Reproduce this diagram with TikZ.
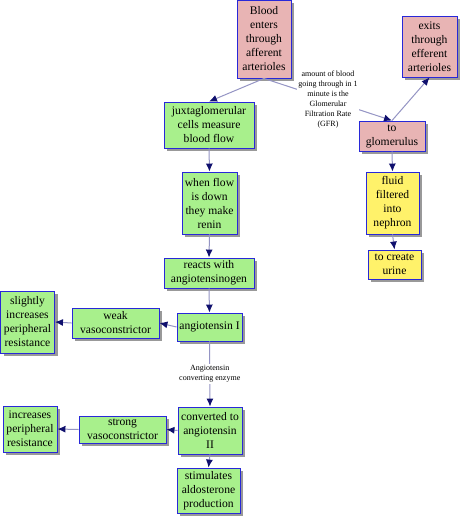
\documentclass[tikz,border=0pt]{standalone}
\usepackage{fontspec}
\setmainfont{Liberation Serif}
\usetikzlibrary{arrows.meta,shadows}
\definecolor{pinkc}{HTML}{E8B4B4}
\definecolor{greenc}{HTML}{A8F08C}
\definecolor{yellowc}{HTML}{FFF26A}
\definecolor{borderc}{HTML}{2828D8}
\definecolor{linec}{HTML}{9494C4}
\definecolor{tipc}{HTML}{10106E}
\tikzset{
  box/.style={draw=borderc, line width=0.9pt, align=center, inner sep=1pt,
    font=\fontsize{11.6}{14}\selectfont,
    drop shadow={shadow xshift=3pt, shadow yshift=-3pt, fill=gray!80, opacity=1}},
  pinkbox/.style={box, fill=pinkc},
  greenbox/.style={box, fill=greenc},
  yellowbox/.style={box, fill=yellowc},
  conn/.style={draw=linec, line width=1pt, -{Latex[length=8pt,width=7pt,color=tipc]}},
  lbl/.style={fill=white, inner sep=1pt, align=center, font=\fontsize{8}{10}\selectfont}
}
\begin{document}
\begin{tikzpicture}[x=1pt,y=-1pt]
\useasboundingbox (0,0) rectangle (460,517);
\fill[white] (0,0) rectangle (460,517);
% nodes
\node[pinkbox, minimum width=54pt, minimum height=78pt] (blood) at (264,39) {Blood\\enters\\through\\afferent\\arterioles};
\node[pinkbox, minimum width=55pt, minimum height=61pt] (exits) at (429.5,46.5) {exits\\through\\efferent\\arterioles};
\node[greenbox, minimum width=90pt, minimum height=46pt] (juxt) at (209,125) {juxtaglomerular\\cells measure\\blood flow};
\node[pinkbox, minimum width=66pt, minimum height=30pt] (glom) at (392,136) {to\\glomerulus};
\node[greenbox, minimum width=55pt, minimum height=62pt] (when) at (209.5,203) {when flow\\is down\\they make\\renin};
\node[greenbox, minimum width=90pt, minimum height=30pt] (reacts) at (209,273) {reacts with\\angiotensinogen};
\node[greenbox, minimum width=65pt, minimum height=28pt] (angI) at (209.5,327) {angiotensin I};
\node[greenbox, minimum width=87pt, minimum height=30pt] (weak) at (115.5,323) {weak\\vasoconstrictor};
\node[greenbox, minimum width=54pt, minimum height=62pt] (slight) at (27.5,322) {slightly\\increases\\peripheral\\resistance};
\node[greenbox, minimum width=64pt, minimum height=47pt] (conv) at (210,430.5) {converted to\\angiotensin\\II};
\node[greenbox, minimum width=87pt, minimum height=27pt] (strong) at (122.5,429.5) {strong\\vasoconstrictor};
\node[greenbox, minimum width=54pt, minimum height=46pt] (incr) at (30,429) {increases\\peripheral\\resistance};
\node[greenbox, minimum width=63pt, minimum height=45pt] (stim) at (208.5,490.5) {stimulates\\aldosterone\\production};
\node[yellowbox, minimum width=53pt, minimum height=62pt] (fluid) at (392.5,203) {fluid\\filtered\\into\\nephron};
\node[yellowbox, minimum width=53pt, minimum height=29pt] (urine) at (394.5,264.5) {to create\\urine};
% connectors
\draw[conn] (blood.south) -- (juxt.north);
\draw[conn] (blood.south) -- node[lbl] (gfr) {amount of blood\\going through in 1\\minute is the\\Glomerular\\Filtration Rate\\(GFR)} (glom.north);
\draw[conn] (glom.north) -- (exits.south);
\draw[conn] (glom.south) -- (fluid.north);
\draw[conn] (fluid.south) -- (urine.north);
\draw[conn] (juxt.south) -- (when.north);
\draw[conn] (when.south) -- (reacts.north);
\draw[conn] (reacts.south) -- (angI.north);
\draw[conn] (angI.west) -- (weak.east);
\draw[conn] (weak.west) -- (slight.east);
\draw[conn] (angI.south) -- node[lbl] (ace) {Angiotensin\\converting enzyme} (conv.north);
\draw[conn] (conv.west) -- (strong.east);
\draw[conn] (strong.west) -- (incr.east);
\draw[conn] (conv.south) -- (stim.north);
\end{tikzpicture}
\end{document}
